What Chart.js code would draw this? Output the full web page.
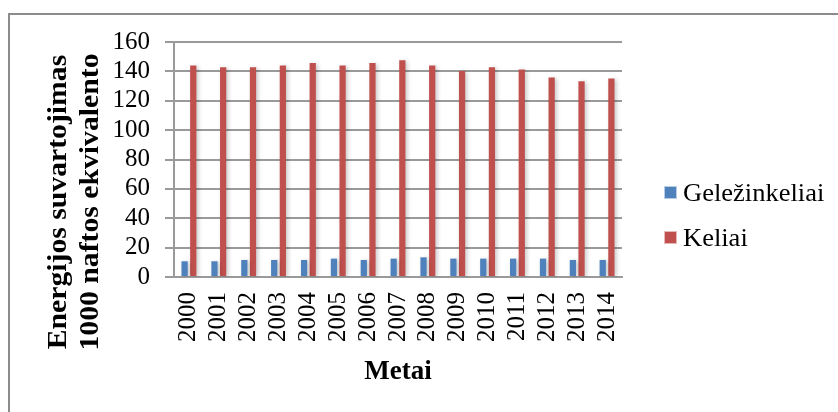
<!DOCTYPE html>
<html>
<head>
<meta charset="utf-8">
<script src="https://cdn.jsdelivr.net/npm/chart.js@4/dist/chart.umd.min.js"></script>
<style>
  html, body { margin: 0; padding: 0; background: #ffffff; }
  #wrap { width: 838px; height: 412px; position: relative; }
</style>
</head>
<body>
<div id="wrap"><canvas id="c" width="838" height="412"></canvas></div>
<script>
// Years on the category axis
const years = ['2000','2001','2002','2003','2004','2005','2006','2007','2008','2009','2010','2011','2012','2013','2014'];

// Energy consumption, thousand tonnes of oil equivalent
const gelezinkeliai = [10.7, 10.7, 11.6, 11.6, 11.6, 12.5, 11.6, 12.5, 13.4, 12.5, 12.5, 12.5, 12.5, 11.6, 11.6];
const keliai = [144, 142.8, 142.8, 144, 145.7, 144, 145.7, 147.5, 144, 140.3, 142.8, 141.2, 135.8, 133.3, 135.1];

// Value axis ticks
const yTicks = [0, 20, 40, 60, 80, 100, 120, 140, 160];

const seriesNames = ['Geležinkeliai', 'Keliai'];
const yTitleLines = ['Energijos suvartojimas', '1000 naftos ekvivalento'];
const xTitle = 'Metai';

const BLUE = '#4f81bd';
const RED = '#c0504d';
const GRID = '#9a9a9a';
const SERIF = '"Liberation Serif", "Times New Roman", serif';

// White page with the frame lines on the left and top
const framePlugin = {
  id: 'frame',
  beforeDraw(chart) {
    const ctx = chart.ctx;
    ctx.save();
    ctx.fillStyle = '#ffffff';
    ctx.fillRect(0, 0, chart.width, chart.height);
    ctx.strokeStyle = '#8c8c8c';
    ctx.lineWidth = 2;
    ctx.beginPath();
    ctx.moveTo(9, chart.height);
    ctx.lineTo(9, 14);
    ctx.lineTo(chart.width, 14);
    ctx.stroke();
    ctx.restore();
  }
};

// Soft drop shadow behind the bars
const shadowPlugin = {
  id: 'barShadow',
  beforeDatasetsDraw(chart) {
    const ctx = chart.ctx;
    ctx.save();
    ctx.shadowColor = 'rgba(0,0,0,0.22)';
    ctx.shadowBlur = 4;
    ctx.shadowOffsetX = 2;
    ctx.shadowOffsetY = 1;
  },
  afterDatasetsDraw(chart) {
    chart.ctx.restore();
  }
};

// Axis titles and the legend on the right
const labelsPlugin = {
  id: 'axisLabels',
  afterDraw(chart) {
    const ctx = chart.ctx;
    const area = chart.chartArea;
    ctx.save();
    ctx.fillStyle = '#000000';

    // value axis title, two rotated lines (slightly stretched lengthwise)
    ctx.font = 'bold 27px ' + SERIF;
    ctx.textAlign = 'center';
    ctx.textBaseline = 'middle';
    const xs = [59, 91];
    yTitleLines.forEach((line, i) => {
      ctx.save();
      ctx.translate(xs[i], 202);
      ctx.rotate(-Math.PI / 2);
      ctx.scale(1.1, 1);
      ctx.fillText(line, 0, 0);
      ctx.restore();
    });

    // category axis title
    ctx.font = 'bold 27px ' + SERIF;
    ctx.fillText(xTitle, (area.left + area.right) / 2, 372);

    // legend
    const ys = [193, 238];
    chart.data.datasets.forEach((ds, i) => {
      const y = ys[i];
      ctx.fillStyle = ds.backgroundColor;
      ctx.fillRect(664, y - 7, 13, 13);
      ctx.strokeStyle = 'rgba(255,255,255,0.6)';
      ctx.lineWidth = 1;
      ctx.strokeRect(664.5, y - 6.5, 12, 12);
      ctx.fillStyle = '#000000';
      ctx.font = '25px ' + SERIF;
      ctx.textAlign = 'left';
      ctx.textBaseline = 'middle';
      ctx.save();
      ctx.translate(683, y + 1);
      ctx.scale(1.06, 1);
      ctx.fillText(ds.label, 0, 0);
      ctx.restore();
    });
    ctx.restore();
  }
};

new Chart(document.getElementById('c'), {
  type: 'bar',
  data: {
    labels: years,
    datasets: [
      {
        label: seriesNames[0],
        data: gelezinkeliai,
        backgroundColor: BLUE,
        borderWidth: 0,
        categoryPercentage: 0.58,
        barPercentage: 0.72
      },
      {
        label: seriesNames[1],
        data: keliai,
        backgroundColor: RED,
        borderWidth: 0,
        categoryPercentage: 0.58,
        barPercentage: 0.72
      }
    ]
  },
  options: {
    responsive: false,
    animation: false,
    devicePixelRatio: 1,
    layout: { padding: { top: 42, right: 216, bottom: 0, left: 0 } },
    plugins: {
      legend: { display: false },
      tooltip: { enabled: false }
    },
    scales: {
      x: {
        grid: { display: false, drawTicks: false },
        border: { display: true, color: GRID, width: 2 },
        ticks: {
          color: '#000000',
          font: { family: SERIF, size: 25 },
          minRotation: 90,
          maxRotation: 90,
          padding: 15,
          autoSkip: false
        },
        afterFit(scale) { scale.height = 135; }
      },
      y: {
        min: 0,
        max: 160,
        afterBuildTicks(scale) { scale.ticks = yTicks.map(v => ({ value: v })); },
        grid: { color: GRID, lineWidth: 2, drawTicks: true, tickLength: 9 },
        border: { display: true, color: GRID, width: 2 },
        ticks: {
          color: '#000000',
          font: { family: SERIF, size: 25 },
          padding: 15,
          autoSkip: false
        },
        afterFit(scale) { scale.width = 174; }
      }
    }
  },
  plugins: [framePlugin, shadowPlugin, labelsPlugin]
});
</script>
</body>
</html>
